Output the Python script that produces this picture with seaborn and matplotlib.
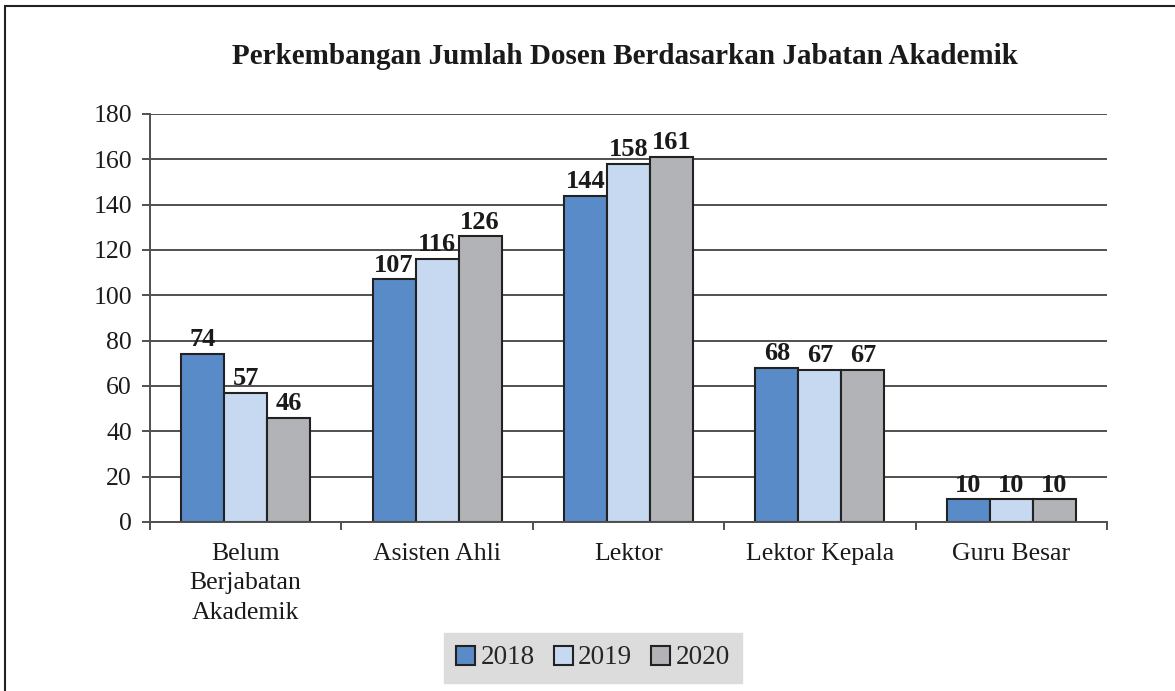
import matplotlib
matplotlib.use("Agg")
import matplotlib.pyplot as plt
import seaborn as sns
import pandas as pd
from matplotlib.patches import Rectangle

categories = ["Belum\nBerjabatan\nAkademik", "Asisten Ahli", "Lektor", "Lektor Kepala", "Guru Besar"]
years = ["2018", "2019", "2020"]
v2018 = [74, 107, 144, 68, 10]
v2019 = [57, 116, 158, 67, 10]
v2020 = [46, 126, 161, 67, 10]
yticks = [0, 20, 40, 60, 80, 100, 120, 140, 160, 180]
title = "Perkembangan Jumlah Dosen Berdasarkan Jabatan Akademik"

rows = []
for yr, vals in zip(years, [v2018, v2019, v2020]):
    for c, v in zip(categories, vals):
        rows.append({"cat": c, "year": yr, "val": v})
df = pd.DataFrame(rows)

sns.set_style("white")
plt.rcParams["font.family"] = ["Liberation Serif", "DejaVu Serif"]

palette = {"2018": "#5A8BC9", "2019": "#C6D9F1", "2020": "#B2B3B7"}

fig = plt.figure(figsize=(11.75, 6.91), dpi=100)
ax = fig.add_axes([150/1175, 1-522/691, (1107-150)/1175, (522-114)/691])

sns.barplot(data=df, x="cat", y="val", hue="year", order=categories, hue_order=years,
            palette=palette, edgecolor="#222222", linewidth=1.5, width=0.675, gap=0,
            ax=ax, legend=True, saturation=1)

for cont in ax.containers:
    ax.bar_label(cont, fontsize=19, fontweight="bold", padding=2, color="#1a1a1a")

ax.set_ylim(0, 180)
ax.set_xlim(-0.5, 4.5)
ax.set_yticks(yticks)
ax.set_xlabel("")
ax.set_ylabel("")
ax.yaxis.grid(True, color="#505050", linewidth=1.4)
ax.set_axisbelow(True)
for s in ["top", "right"]:
    ax.spines[s].set_visible(False)
for s in ["left", "bottom"]:
    ax.spines[s].set_color("#505050")
    ax.spines[s].set_linewidth(1.4)

ax.tick_params(axis="y", which="major", length=6, width=1.4, color="#505050", labelsize=18.5, pad=7, direction="out", left=True)
ax.tick_params(axis="x", which="major", length=0, labelsize=18.5, pad=15, bottom=False)
ax.set_xticks([-0.5, 0.5, 1.5, 2.5, 3.5, 4.5], minor=True)
ax.tick_params(axis="x", which="minor", length=6, width=1.4, color="#505050", direction="out", bottom=True)
for lab in ax.get_xticklabels():
    lab.set_multialignment("center")
    lab.set_linespacing(1.45)
    lab.set_color("#1a1a1a")
for lab in ax.get_yticklabels():
    lab.set_color("#1a1a1a")

ax.get_legend().remove()
handles = [Rectangle((0, 0), 1, 1, facecolor=palette[y], edgecolor="#222222", linewidth=1.5) for y in years]
leg = fig.legend(handles, years, loc="center", bbox_to_anchor=(593/1175, 1-658/691), ncol=3,
                 frameon=True, fancybox=False, fontsize=19.5, handlelength=0.7, handleheight=0.7,
                 handletextpad=0.2, columnspacing=0.7, borderpad=0.45)
leg.get_frame().set_facecolor("#DCDCDC")
leg.get_frame().set_edgecolor("#DCDCDC")
leg.get_frame().set_alpha(1)

fig.text(625/1175, 1-57/691, title, ha="center", va="center", fontsize=21, fontweight="bold", color="#1a1a1a")

fig.patches.append(Rectangle((5/1175, -0.05), 1.2, 1-6/691 + 0.05, transform=fig.transFigure,
                             fill=False, edgecolor="#222222", linewidth=1.5))

fig.savefig("out.png", dpi=100)
